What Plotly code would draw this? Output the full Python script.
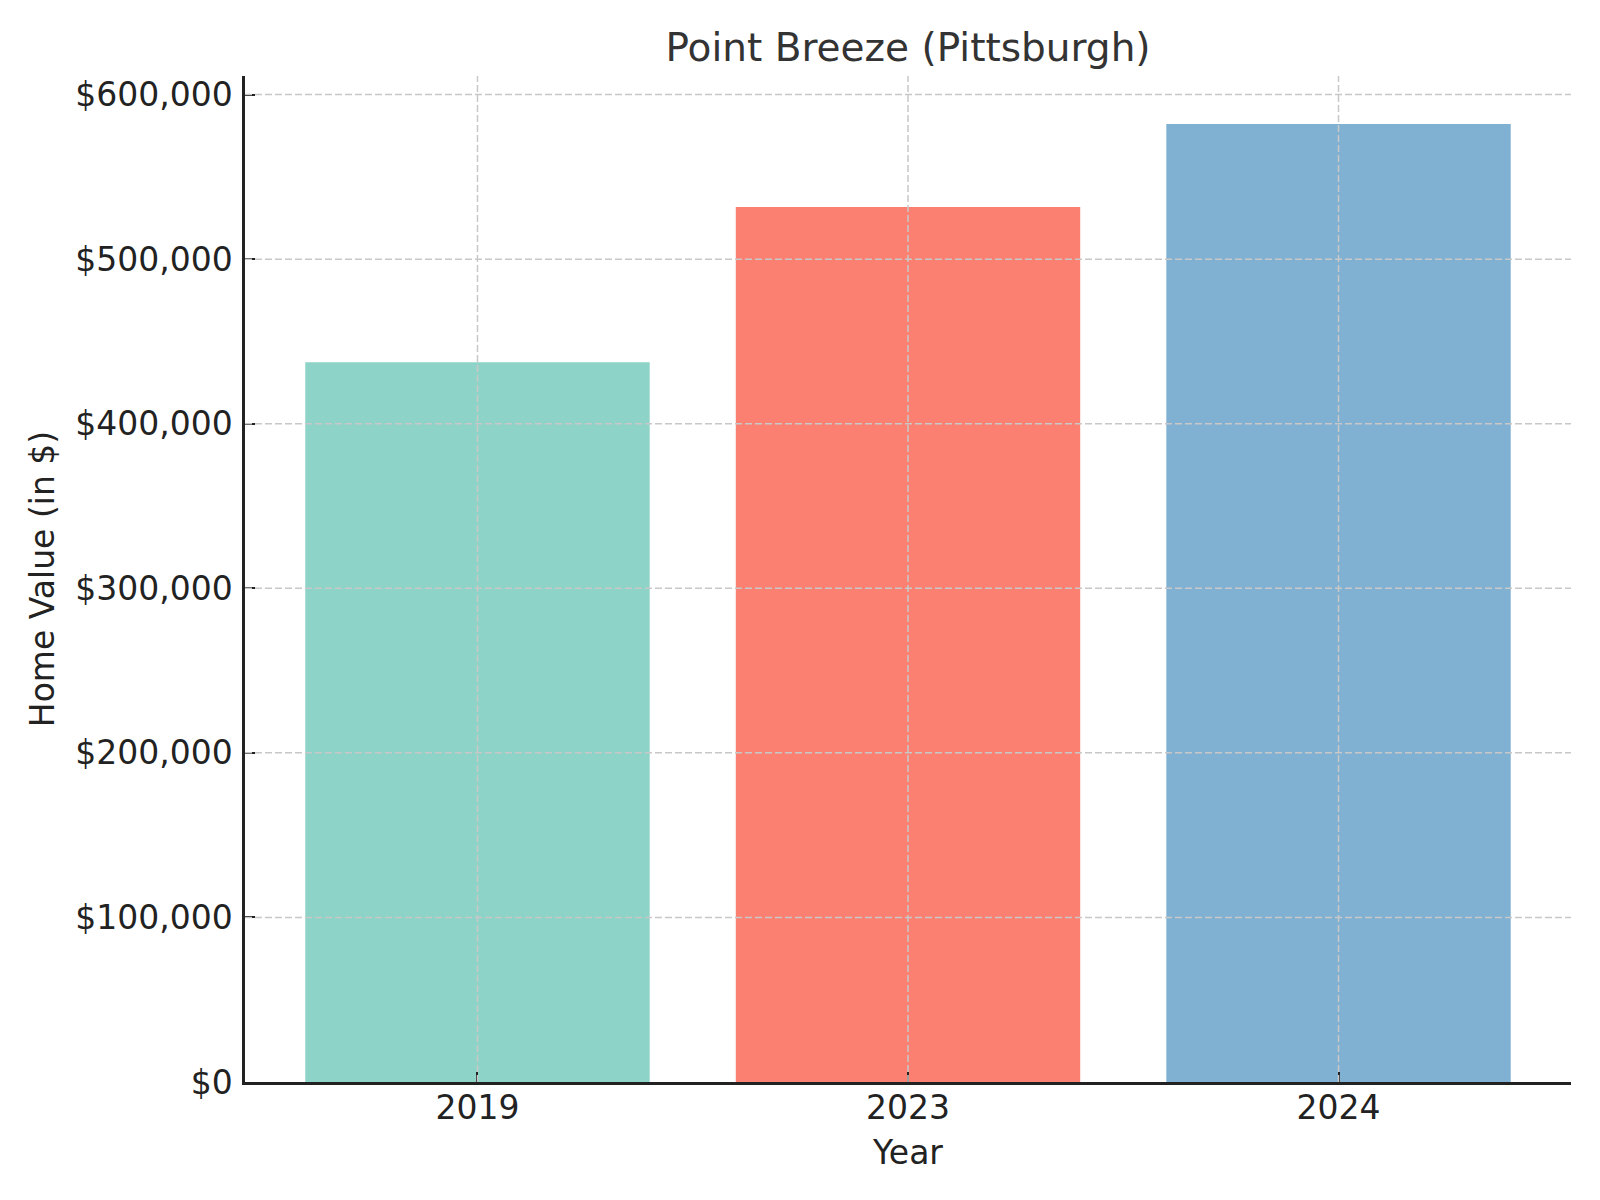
import plotly.graph_objects as go

years = ["2019", "2023", "2024"]
home_values = [437400, 531700, 582200]
bar_colors = ["#8dd3c7", "#fb8072", "#80b1d3"]
y_ticks = [0, 100000, 200000, 300000, 400000, 500000, 600000]
y_tick_labels = [f"${v:,}" for v in y_ticks]

title_text = "Point Breeze (Pittsburgh)"
x_title = "Year"
y_title = "Home Value (in $)"

font_family = "DejaVu Sans"
grid_color = "#c8c8c8"
axis_color = "#222222"

W, H = 1592, 1192

fig = go.Figure()
fig.add_trace(go.Bar(
    x=years,
    y=home_values,
    marker=dict(color=bar_colors, line=dict(width=0)),
    width=0.8,
))

shapes = []
for i, yr in enumerate(years):
    shapes.append(dict(type="line", xref="x", yref="paper", x0=i, x1=i, y0=0, y1=1,
                       line=dict(color=grid_color, width=1.5, dash="7px,3px"), layer="above"))
for tv in y_ticks[1:]:
    shapes.append(dict(type="line", xref="paper", yref="y", x0=0, x1=1, y0=tv, y1=tv,
                       line=dict(color=grid_color, width=1.5, dash="7px,3px"), layer="above"))

fig.update_layout(
    width=W, height=H, autosize=False,
    margin=dict(l=237, r=29, t=68, b=118),
    paper_bgcolor="white", plot_bgcolor="white",
    showlegend=False,
    font=dict(family=font_family, color=axis_color, size=33),
    title=dict(text=title_text, x=0.5, xref="paper", xanchor="center",
               y=1 - 39 / H, yanchor="middle",
               font=dict(family=font_family, size=39, color="#333333")),
    shapes=shapes,
    bargap=0.2,
)

fig.update_xaxes(
    type="category",
    range=[-0.54, len(years) - 1 + 0.54],
    showgrid=False, zeroline=False,
    showline=True, linecolor=axis_color, linewidth=2.5,
    ticks="inside", ticklen=10, tickwidth=2, tickcolor=axis_color,
    tickfont=dict(size=33, color=axis_color, family=font_family),
    ticklabelstandoff=-5,
    title=dict(text=x_title, font=dict(size=33, color=axis_color, family=font_family), standoff=15),
    layer="above traces",
)
fig.update_yaxes(
    range=[0, max(home_values) * 1.05],
    tickvals=y_ticks,
    ticktext=y_tick_labels,
    showgrid=False, zeroline=False,
    showline=True, linecolor=axis_color, linewidth=2.5,
    ticks="inside", ticklen=10, tickwidth=2, tickcolor=axis_color,
    tickfont=dict(size=33, color=axis_color, family=font_family),
    ticklabelstandoff=3,
    title=dict(text=y_title, font=dict(size=33, color=axis_color, family=font_family), standoff=11),
    layer="above traces",
)

fig.write_html("out.html")
